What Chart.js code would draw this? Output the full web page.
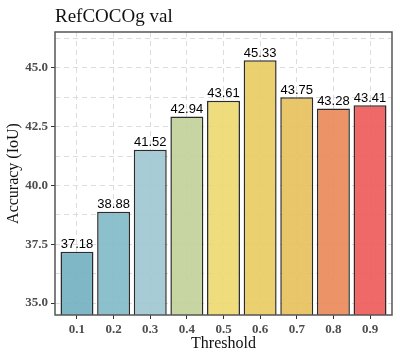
<!DOCTYPE html>
<html>
<head>
<meta charset="utf-8">
<script src="https://cdn.jsdelivr.net/npm/chart.js@4"></script>
<style>
  html, body { margin: 0; padding: 0; background: #fff; }
  #wrap { width: 400px; height: 359px; }
</style>
</head>
<body>
<div id="wrap"><canvas id="myChart"></canvas></div>
<script>
// data
const thresholds = [0.1, 0.2, 0.3, 0.4, 0.5, 0.6, 0.7, 0.8, 0.9];
const accuracy = [37.18, 38.88, 41.52, 42.94, 43.61, 45.33, 43.75, 43.28, 43.41];
const barColors = [
    'rgba(113, 175, 192, 0.9)',
    'rgba(127, 185, 199, 0.9)',
    'rgba(158, 198, 209, 0.9)',
    'rgba(193, 208, 152, 0.9)',
    'rgba(237, 216, 111, 0.9)',
    'rgba(233, 203, 96, 0.9)',
    'rgba(229, 192, 89, 0.9)',
    'rgba(234, 136, 87, 0.9)',
    'rgba(238, 89, 89, 0.9)'
];
const yMajorTicks = [35, 37.5, 40, 42.5, 45];
const yMinorTicks = [36.25, 38.75, 41.25, 43.75, 46.25];
const chartTitle = 'RefCOCOg val';

const serif = '"Liberation Serif", "Times New Roman", serif';
const sans = '"Liberation Sans", Arial, sans-serif';

// panel border, title and value labels
const extras = {
    id: 'extras',
    afterDatasetsDraw(chart) {
        const ctx = chart.ctx;
        const area = chart.chartArea;
        const meta = chart.getDatasetMeta(0);
        ctx.save();
        ctx.font = '13px ' + sans;
        ctx.fillStyle = '#000';
        ctx.textAlign = 'center';
        ctx.textBaseline = 'bottom';
        meta.data.forEach((bar, i) => {
            ctx.fillText(accuracy[i].toFixed(2), bar.x, bar.y - 0.5);
        });
        ctx.strokeStyle = '#555';
        ctx.lineWidth = 1.5;
        ctx.strokeRect(area.left, area.top, area.right - area.left, area.bottom - area.top);
        ctx.font = '19px ' + serif;
        ctx.fillStyle = '#111';
        ctx.textAlign = 'left';
        ctx.textBaseline = 'alphabetic';
        ctx.fillText(chartTitle, area.left, 21.5);
        ctx.restore();
    }
};

const ctx = document.getElementById('myChart');
const myChart = new Chart(ctx, {
    type: 'bar',
    data: {
        datasets: [{
            data: thresholds.map((t, i) => ({ x: t, y: accuracy[i] })),
            backgroundColor: barColors,
            borderColor: '#2b2b2b',
            borderWidth: 1.5,
            barPercentage: 0.9,
            categoryPercentage: 1.0
        }]
    },
    options: {
        responsive: true,
        maintainAspectRatio: false,
        animation: false,
        layout: { padding: { top: 32, right: 8, left: 0, bottom: 0 } },
        plugins: {
            legend: { display: false },
            tooltip: { enabled: false }
        },
        scales: {
            x: {
                type: 'linear',
                offset: false,
                min: 0.04,
                max: 0.96,
                afterBuildTicks(scale) {
                    scale.ticks = thresholds.map(v => ({ value: v }));
                },
                afterFit(scale) { scale.height = 44; },
                border: { display: false, dash: [5, 4] },
                grid: {
                    offset: false,
                    color: '#dcdcdc',
                    lineWidth: 1,
                    tickLength: 4,
                    tickColor: '#333',
                    tickWidth: 1
                },
                ticks: {
                    padding: 3,
                    color: '#4d4d4d',
                    font: { family: serif, size: 13, weight: 'bold' },
                    callback: (v) => Number(v).toFixed(1)
                },
                title: {
                    display: true,
                    text: 'Threshold',
                    color: '#111',
                    font: { family: serif, size: 16 },
                    padding: { top: 6, bottom: 6 }
                }
            },
            y: {
                min: 34.49,
                max: 46.53,
                afterBuildTicks(scale) {
                    scale.ticks = yMajorTicks.concat(yMinorTicks).sort((a, b) => a - b).map(v => ({ value: v }));
                },
                afterFit(scale) { scale.width = 55; },
                border: { display: false, dash: [5, 4] },
                grid: {
                    color: '#dcdcdc',
                    lineWidth: 1,
                    tickLength: 4,
                    tickColor: (c) => (c.tick && yMajorTicks.includes(c.tick.value)) ? '#333' : 'rgba(0,0,0,0)',
                    tickWidth: 1
                },
                ticks: {
                    padding: 3,
                    color: '#4d4d4d',
                    font: { family: serif, size: 13, weight: 'bold' },
                    callback: (v) => yMajorTicks.includes(v) ? v.toFixed(1) : ''
                },
                title: {
                    display: true,
                    text: 'Accuracy (IoU)',
                    color: '#111',
                    font: { family: serif, size: 16 },
                    padding: { top: 4, bottom: 4 }
                }
            }
        }
    },
    plugins: [extras]
});
</script>
</body>
</html>
